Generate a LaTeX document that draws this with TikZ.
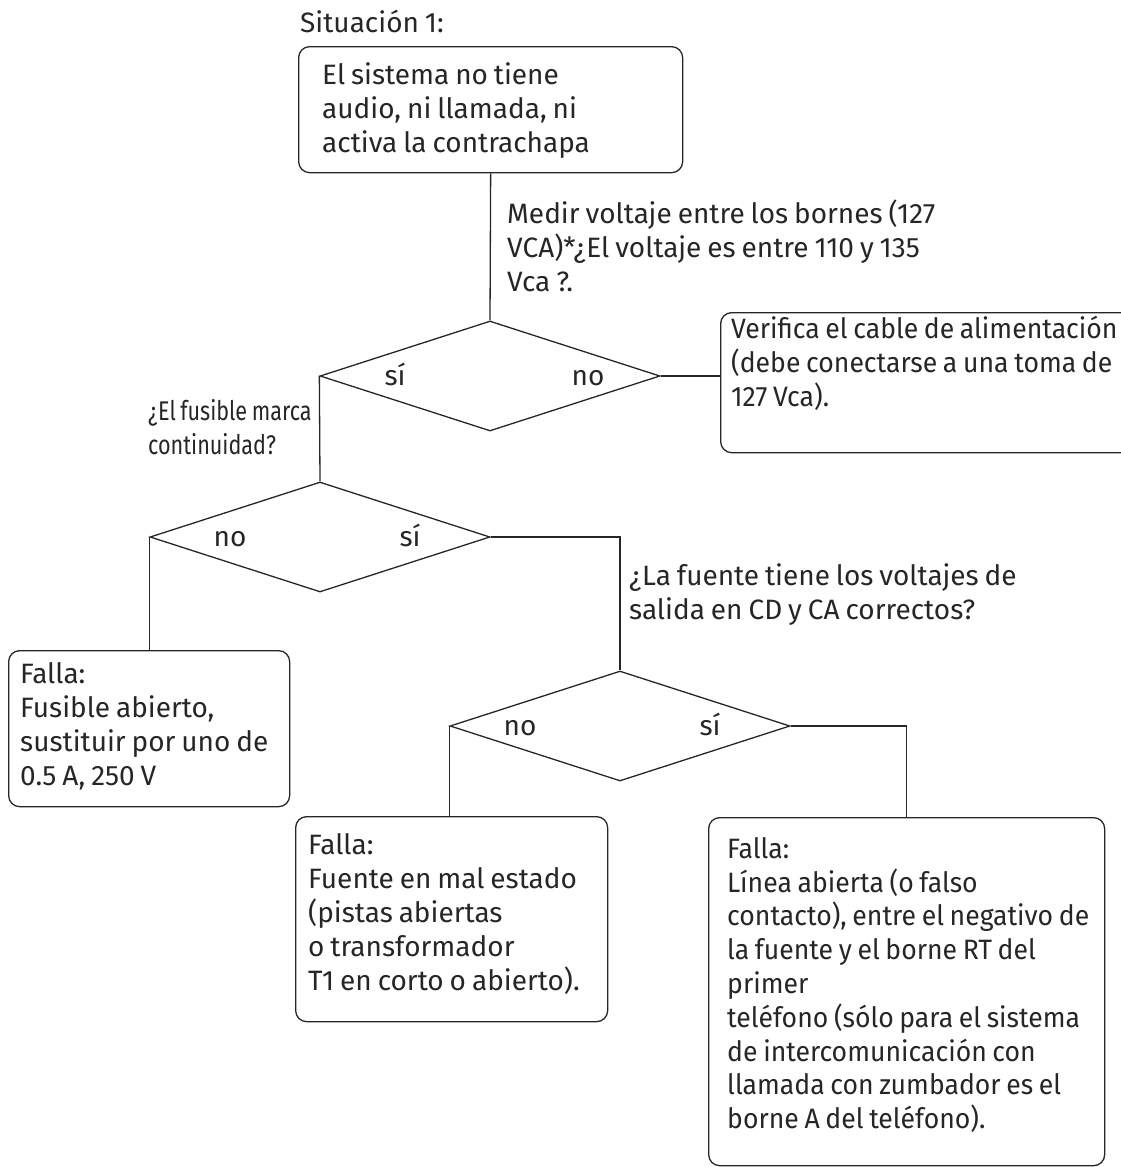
\documentclass[tikz,border=0pt]{standalone}
\usepackage{fontspec}
\setmainfont[WordSpace=0.8]{Fira Sans}
\usetikzlibrary{shapes.geometric}
\tikzset{
  line/.style={draw=black!85, line width=1.3pt},
  box/.style={line, rounded corners=11pt, anchor=north west, inner sep=0pt},
  decision/.style={line, diamond, minimum width=340pt, minimum height=110pt, inner sep=0pt},
  txt/.style={inner sep=0pt, align=left, anchor=north west},
  narrowtxt/.style={txt, font=\fontsize{28}{33.8}\selectfont\addfontfeature{FakeStretch=0.95}},
  lab/.style={inner sep=0pt, anchor=base}
}
\begin{document}
\begin{tikzpicture}[x=1pt,y=-1pt, font=\fontsize{28}{34}\selectfont, text=black!85]
\useasboundingbox (0,0) rectangle (1121,1167);
\clip (0,0) rectangle (1121,1167);

\node[txt, anchor=base west] (title) at (300,32) {Situación 1:};

% boxes
\node[box, minimum width=384pt, minimum height=126pt] (b1) at (298,46) {};
\node[box, minimum width=424pt, minimum height=140pt] (b2) at (720,312) {};
\node[box, minimum width=281pt, minimum height=156pt] (b3) at (8,650) {};
\node[box, minimum width=312pt, minimum height=205pt] (b4) at (295,816) {};
\node[box, minimum width=396pt, minimum height=348pt] (b5) at (708,817) {};

% box texts
\node[txt] (t1) at (322,62) {El sistema no tiene\\audio, ni llamada, ni\\activa la contrachapa};
\node[narrowtxt] (t2) at (731,316) {Verifica el cable de alimentación\\(debe conectarse a una toma de\\127 Vca).};
\node[txt] (t3) at (20,662) {Falla:\\Fusible abierto,\\sustituir por uno de\\0.5 A, 250 V};
\node[txt] (t4) at (308,833) {Falla:\\Fuente en mal estado\\(pistas abiertas\\o transformador\\T1 en corto o abierto).};
\node[narrowtxt] (t5) at (727,837) {Falla:\\Línea abierta (o falso\\contacto), entre el negativo de\\la fuente y el borne RT del\\primer\\teléfono (sólo para el sistema\\de intercomunicación con\\llamada con zumbador es el\\borne A del teléfono).};

% decisions
\node[decision] (d1) at (490,376) {};
\node[lab] (d1l) at (395,385) {sí};
\node[lab] (d1r) at (588,385) {no};

\node[decision] (d2) at (320,537) {};
\node[lab] (d2l) at (230,546) {no};
\node[lab] (d2r) at (410,546) {sí};

\node[decision] (d3) at (620,726) {};
\node[lab] (d3l) at (520,735) {no};
\node[lab] (d3r) at (710,735) {sí};

% question texts
\node[txt] (q1) at (507,200) {Medir voltaje entre los bornes (127\\VCA)*¿El voltaje es entre 110 y 135\\Vca ?.};
\node[txt, font=\fontsize{27}{34}\selectfont\addfontfeature{FakeStretch=0.8}] (q2) at (148,399) {¿El fusible marca\\continuidad?};
\node[txt] (q3) at (629,563) {¿La fuente tiene los voltajes de\\salida en CD y CA correctos?};

% connectors
\path[line] (b1.south) -- (d1.north);
\path[line] (d1.east) -- (d1.east -| b2.west);
\path[line] (d1.west) -- (d2.north);
\path[line] (d2.west) -- (d2.west |- b3.north);
\path[line] (d2.east) -| (d3.north);
\path[line] (d3.west) -- (d3.west |- b4.north);
\path[line] (d3.east) -| (b5.north);
\end{tikzpicture}
\end{document}
